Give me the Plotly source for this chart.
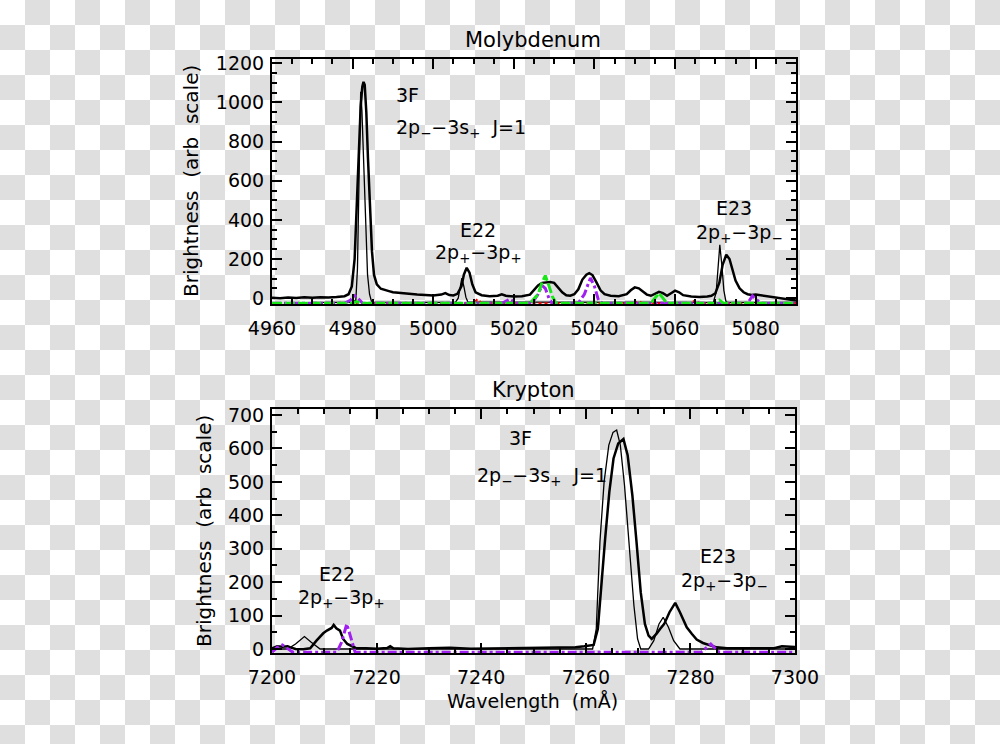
import plotly.graph_objects as go

# ---- Molybdenum spectrum (top panel) ----
mo_meas_x = [4960, 4962, 4964, 4966, 4968, 4970, 4972, 4974, 4976, 4978, 4979, 4979.8,
             4980.5, 4981, 4981.5, 4982, 4982.4, 4982.7, 4983.0, 4983.4, 4983.8, 4984.3,
             4984.8, 4985.3, 4986, 4987, 4988, 4989, 4990, 4992, 4994, 4996, 4998, 5000,
             5002, 5003, 5004, 5005, 5006, 5007, 5007.6, 5008.3, 5009, 5009.7, 5010.5,
             5012, 5014, 5016, 5017, 5018, 5020, 5022, 5024, 5025, 5026, 5027, 5028,
             5029, 5030, 5031, 5032, 5033, 5034, 5035, 5036, 5037, 5038, 5038.7, 5039.5,
             5040.5, 5041.5, 5042.5, 5044, 5046, 5048, 5049, 5050, 5051, 5052, 5053,
             5054, 5055, 5056, 5057, 5058, 5059, 5060, 5061, 5062, 5064, 5066, 5068,
             5069, 5070, 5071, 5071.8, 5072.7, 5073.5, 5074.3, 5075, 5076, 5077, 5078,
             5079, 5080, 5081, 5082, 5084, 5086, 5088, 5090]
mo_meas_y = [2, 0, 3, 1, 4, 2, 5, 3, 6, 10, 20, 60,
             200, 450, 750, 980, 1080, 1105, 1090, 950, 720, 450,
             240, 120, 70, 48, 40, 36, 30, 25, 22, 18, 16, 14,
             18, 26, 16, 14, 22, 60, 120, 155, 130, 70, 30,
             15, 10, 12, 20, 12, 8, 10, 18, 40, 65, 78, 80,
             82, 78, 55, 30, 15, 12, 20, 45, 95, 120, 128, 118,
             80, 40, 20, 12, 10, 20, 40, 55, 50, 35, 18,
             12, 20, 32, 25, 12, 25, 38, 30, 15, 8, 6, 8,
             12, 25, 80, 170, 222, 200, 140, 90, 50, 30, 20,
             16, 18, 15, 10, 6, 2, -5, -12]

mo_fit_x = [4970, 4980, 4980.8, 4981.2, 4981.5, 4981.8, 4982.0, 4982.3, 4982.7, 4983.2,
            4983.7, 4984.2, 4984.7, 4985.2, 5005.5, 5006.2, 5006.6, 5007.1, 5007.6,
            5008.1, 5008.6, 5069.5, 5070.2, 5070.6, 5071.1, 5071.6, 5072.1, 5072.6,
            5073, 5090]
mo_fit_y = [-22, -22, -10, 150, 500, 900, 1055, 960, 700, 350,
            120, 20, -18, -22, -22, 0, 50, 102, 60,
            5, -20, -22, 30, 150, 272, 170, 40, -15,
            -22, -22]

mo_green_x = [4960, 4980, 4981, 4982, 5024, 5026, 5027, 5027.8, 5028.6, 5029.5, 5030.5,
              5054, 5055, 5056, 5057, 5058, 5070, 5071, 5072, 5090]
mo_green_y = [-26, -26, -18, -26, -26, 20, 80, 115, 70, 10, -26,
              -26, 0, 25, 0, -26, -26, -10, -26, -26]

mo_purple_x = [4960, 4978, 4979.5, 4980.5, 4981.5, 4982.5, 5017, 5019, 5020.5, 5024.5,
               5026, 5027, 5027.8, 5028.7, 5029.5, 5036, 5037.5, 5039, 5040, 5041,
               5042, 5078, 5079.2, 5080.3, 5081.5, 5090]
mo_purple_y = [-26, -26, -10, 12, -5, -26, -26, -5, -26, -26,
               20, 65, 50, 0, -26, -26, 20, 103, 60, -10,
               -26, -26, 12, -10, -26, -26]

mo_red_x = [4960, 5010, 5011, 5012, 5050, 5051, 5052, 5064, 5065, 5066, 5090]
mo_red_y = [-26, -26, -5, -26, -26, -15, -26, -26, -10, -26, -26]

# ---- Krypton spectrum (bottom panel) ----
kr_meas_x = [7200, 7201, 7202, 7203, 7203.5, 7204.5, 7206, 7207.3, 7208.5, 7209.8, 7210.5,
             7211.4, 7211.8, 7212.3, 7213, 7213.6, 7214.4, 7215.2, 7216, 7218, 7220,
             7222, 7222.6, 7223.2, 7226, 7230, 7234, 7238, 7242, 7246, 7250, 7254,
             7258, 7259.7, 7261, 7261.5, 7262.3, 7263, 7263.7, 7264.5, 7265.3, 7266.2,
             7267.2, 7268, 7268.9, 7269.7, 7270.5, 7271.3, 7272, 7272.6, 7273.5, 7274.2,
             7275, 7276, 7277.1, 7278, 7279.3, 7280.3, 7281.2, 7282.4, 7283.5, 7285,
             7287, 7290, 7294, 7296, 7297.5, 7299, 7300]
kr_meas_y = [2, 8, 7, 8, 5, 0, -1, 2, 25, 47, 55,
             63, 72, 62, 55, 30, 15, 8, 3, 2, 1,
             3, 8, 2, 0, 2, 4, 1, 2, 3, 4, 3,
             5, 8, 10, 12, 60, 200, 330, 470, 570, 615,
             628, 580, 460, 320, 170, 75, 40, 30, 45, 60,
             75, 110, 138, 110, 65, 45, 28, 18, 12, 5,
             2, 2, 1, 2, 8, 7, 6]

kr_fit_x = [7200, 7203, 7204.5, 7206.2, 7207.5, 7209.2, 7261.3, 7262, 7262.7, 7263.5,
            7264.4, 7265.2, 7265.9, 7266.6, 7267.4, 7268.3, 7269.2, 7269.9, 7270.5,
            7272, 7273, 7274, 7274.8, 7275.8, 7276.8, 7278, 7300]
kr_fit_y = [0, 0, 15, 37, 20, 0, 0, 60, 320, 500,
            610, 648, 655, 610, 490, 320, 130, 30, 0,
            0, 25, 75, 95, 65, 25, 0, 0]

kr_purple_x = [7200, 7201, 7202, 7203, 7204, 7212.4, 7213.3, 7214.3, 7215, 7215.9,
               7282, 7283.9, 7285.5, 7300]
kr_purple_y = [-10, 5, 12, 0, -10, -10, 20, 75, 40, -10,
               -10, 15, -10, -10]

W, H = 1000, 744
FONT = 'DejaVu Sans'
GRAY = '#dfdfdf'
PURPLE = '#a020f0'
GREEN = '#19e619'


def px(x):
    return x / W


def py(y):
    return 1 - y / H


def make_axis(domain, rng, dtick, minor, standoff, anchor):
    return dict(
        domain=domain, range=rng, anchor=anchor,
        dtick=dtick, tick0=0,
        showgrid=False, zeroline=False,
        showline=True, linecolor='black', linewidth=2, mirror='allticks',
        ticks='inside', ticklen=10, tickwidth=1.5, tickcolor='black',
        ticklabelstandoff=standoff,
        minor=dict(dtick=minor, ticks='inside', ticklen=5, tickwidth=1.5,
                   tickcolor='black', showgrid=False),
        tickfont=dict(family=FONT, size=19, color='black'),
        automargin=False,
    )


def line(x, y, xa, ya, width, color='black', dash='solid'):
    return go.Scatter(x=x, y=y, xaxis=xa, yaxis=ya, mode='lines',
                      line=dict(color=color, width=width, dash=dash),
                      showlegend=False, hoverinfo='skip')


traces = [
    line(mo_meas_x, mo_meas_y, 'x', 'y', 2.5),
    line(mo_fit_x, mo_fit_y, 'x', 'y', 1.3),
    line(mo_red_x, mo_red_y, 'x', 'y', 2, 'red', 'dot'),
    line(mo_purple_x, mo_purple_y, 'x', 'y', 3, PURPLE, 'dashdot'),
    line(mo_green_x, mo_green_y, 'x', 'y', 3, GREEN, '10px,3px'),
    line(kr_meas_x, kr_meas_y, 'x2', 'y2', 2.5),
    line(kr_fit_x, kr_fit_y, 'x2', 'y2', 1.3),
    line(kr_purple_x, kr_purple_y, 'x2', 'y2', 3, PURPLE, 'dashdot'),
]

fig = go.Figure(data=traces)

# checkerboard backdrop
shapes = []
for i in range(40):
    for j in range(30):
        if (i + j) % 2 == 1:
            shapes.append(dict(type='rect', xref='paper', yref='paper',
                               x0=px(i * 25), x1=px((i + 1) * 25),
                               y0=py(j * 25), y1=py((j + 1) * 25),
                               fillcolor=GRAY, line=dict(width=0), layer='below'))


def label(text, x, y, xanchor='center', size=19, angle=0):
    return dict(text=text, x=px(x), y=py(y), xref='paper', yref='paper',
                xanchor=xanchor, yanchor='middle', showarrow=False,
                textangle=angle, font=dict(family=FONT, size=size, color='black'))


annotations = [
    label('Molybdenum', 533, 40, size=21),
    label('3F', 394, 95, 'left'),
    label('2p<sub>\u2212</sub>\u22123s<sub>+</sub>  J=1', 394, 128, 'left'),
    label('E22', 478, 230),
    label('2p<sub>+</sub>\u22123p<sub>+</sub>', 478, 254),
    label('E23', 734, 208),
    label('2p<sub>+</sub>\u22123p<sub>\u2212</sub>', 739, 233),
    label('Brightness  (arb  scale)', 191, 181, size=20, angle=-90),
    label('Krypton', 533, 390, size=21),
    label('3F', 520, 438),
    label('2p<sub>\u2212</sub>\u22123s<sub>+</sub>  J=1', 542, 476),
    label('E22', 337, 574),
    label('2p<sub>+</sub>\u22123p<sub>+</sub>', 341, 598),
    label('E23', 718, 556),
    label('2p<sub>+</sub>\u22123p<sub>\u2212</sub>', 724, 581),
    label('Brightness  (arb  scale)', 204, 531, size=20, angle=-90),
    label('Wavelength  (m\u00c5)', 532, 701),
]

fig.update_layout(
    width=W, height=H,
    margin=dict(l=0, r=0, t=0, b=0),
    paper_bgcolor='white', plot_bgcolor='white',
    showlegend=False,
    shapes=shapes,
    annotations=annotations,
    xaxis=make_axis([px(272), px(796)], [4960, 5090], 20, 5, 6, 'y'),
    yaxis=make_axis([py(304), py(59)], [-30, 1222], 200, 50, 2, 'x'),
    xaxis2=make_axis([px(272), px(795)], [7200, 7300], 20, 5, 6, 'y2'),
    yaxis2=make_axis([py(653), py(409)], [-12, 718], 100, 50, 2, 'x2'),
)

# drop the default page margin so the figure sits at the window's corner
fig.write_html('out.html', config={'displayModeBar': False},
               post_script="document.body.style.margin='0';")
